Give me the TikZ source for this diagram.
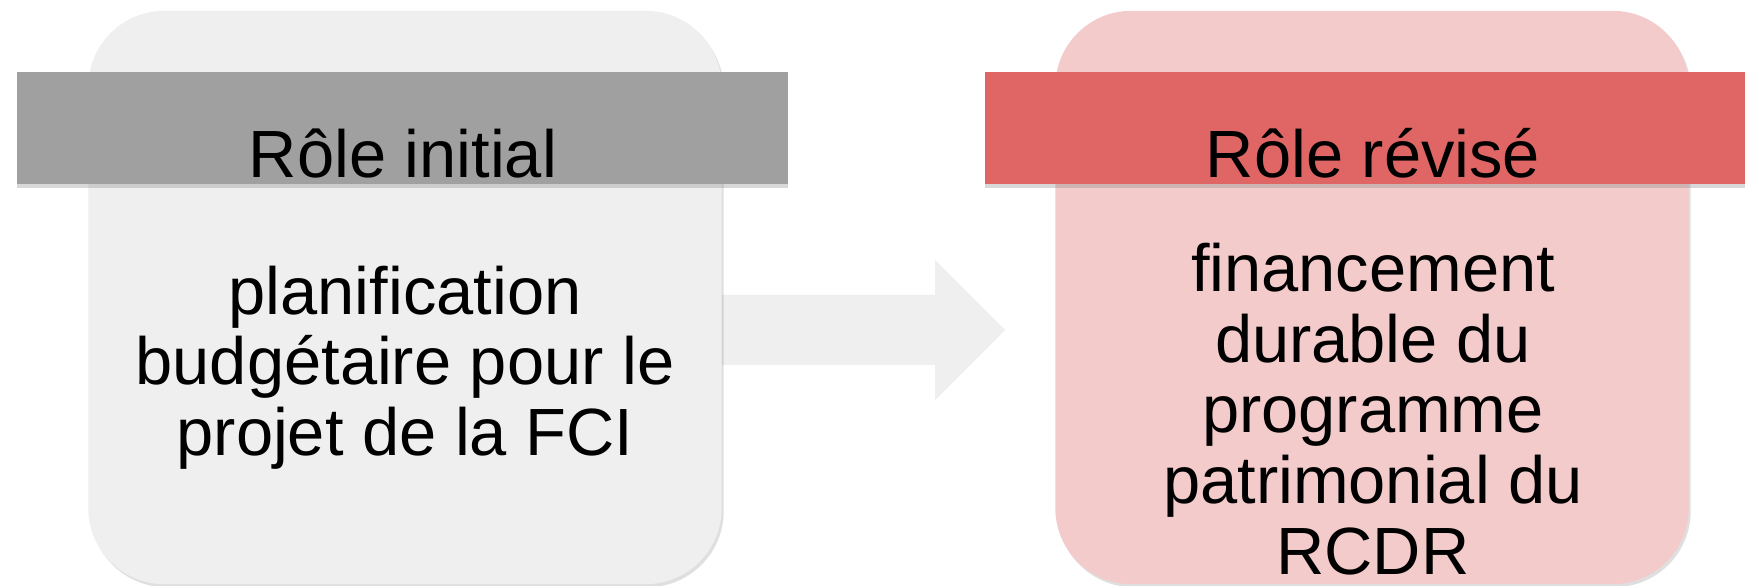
\documentclass[tikz,border=0pt]{standalone}
\usepackage{fontspec}
\setmainfont{Liberation Sans}
\usetikzlibrary{shadows}
\definecolor{boxgray}{HTML}{EFEFEF}
\definecolor{hdrgray}{HTML}{A0A0A0}
\definecolor{boxpink}{HTML}{F3CBCB}
\definecolor{hdrred}{HTML}{E06666}
\definecolor{arrowgray}{HTML}{EFEFEF}
\tikzset{
  rolebox/.style={rectangle, rounded corners=0.76cm, minimum width=6.33cm, minimum height=5.73cm, inner sep=0pt,
    drop shadow={opacity=0.25, shadow xshift=0.02cm, shadow yshift=-0.03cm}},
  hdrbar/.style={rectangle, minimum width=7.71cm, minimum height=1.12cm, inner sep=0pt,
    drop shadow={opacity=0.3, shadow xshift=0cm, shadow yshift=-0.04cm}},
  hdrtext/.style={anchor=base, inner sep=0pt, font=\fontsize{19}{20.1}\selectfont},
  bodytext/.style={align=center, inner sep=0pt, font=\fontsize{19}{20.1}\selectfont}
}
\begin{document}
\begin{tikzpicture}[x=0.01cm, y=-0.01cm]
\clip (0,0) rectangle (1745,586);
\fill[white] (0,0) rectangle (1745,586);
% block arrow (drawn first so the box covers its tail)
\coordinate (atail) at (700,330);
\coordinate (atip) at (1005,330);
\fill[arrowgray] (atail |- 0,295) -- (935,295) -- (935,260) -- (atip) -- (935,400) -- (935,365) -- (atail |- 0,365) -- cycle;
% left box
\node[rolebox, fill=boxgray] (lbox) at (405,297.5) {};
\node[hdrbar, fill=hdrgray] (lhdr) at (402.5,128) {};
\node[hdrtext] (lhdrt) at (403,178) {Rôle initial};
\node[bodytext] (lbody) at (405,367.5) {planification\\budgétaire pour le\\projet de la FCI};
% right box
\node[rolebox, fill=boxpink] (rbox) at (1372,297.5) {};
\node[hdrbar, fill=hdrred] (rhdr) at (1370.5,128) {};
\node[hdrtext] (rhdrt) at (1373,178) {Rôle révisé};
\node[bodytext] (rbody) at (1373,409) {financement\\durable du\\programme\\patrimonial du\\RCDR};
\end{tikzpicture}
\end{document}
